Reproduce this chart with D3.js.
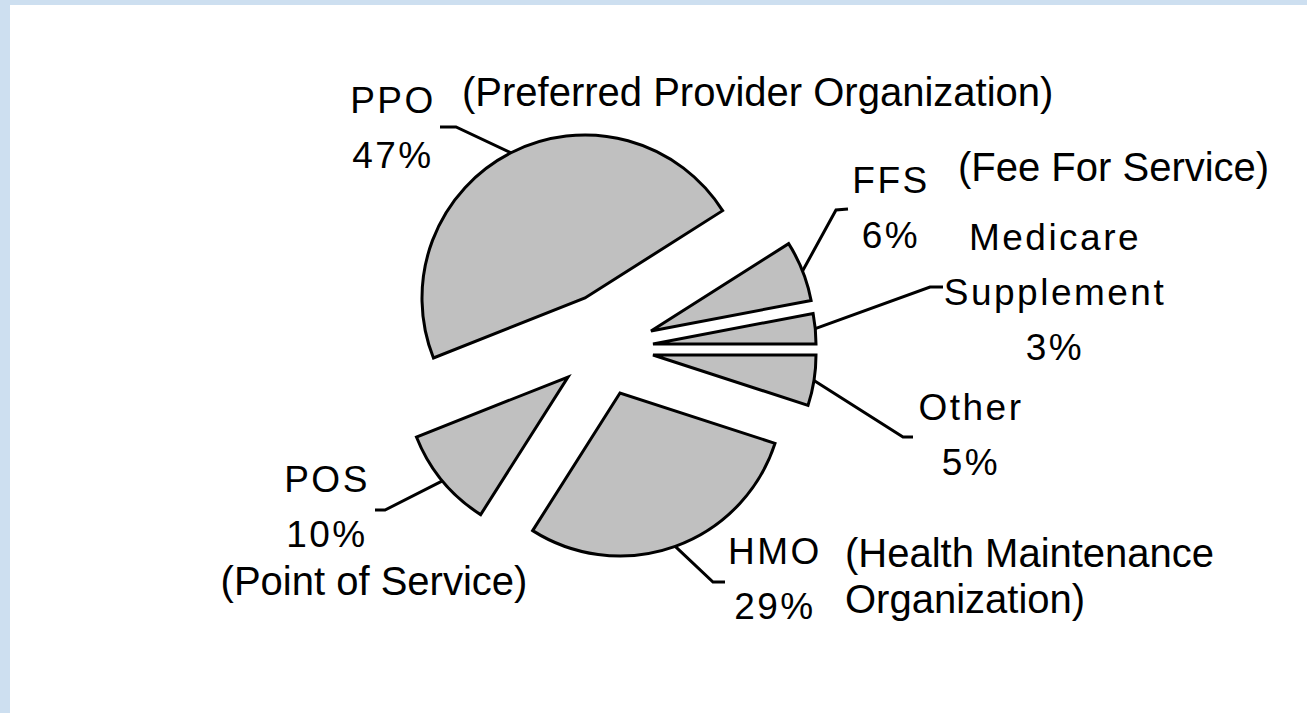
<!DOCTYPE html>
<html>
<head>
<meta charset="utf-8">
<script src="https://cdn.jsdelivr.net/npm/d3@7"></script>
<style>
  body { margin: 0; background: #fff; }
  svg { display: block; }
</style>
</head>
<body>
<script>
var width = 1307,
    height = 713,
    radius = 163;

// data
var categories = ['PPO', 'FFS', 'Medicare Supplement', 'Other', 'HMO', 'POS'];
var shares = [47, 6, 3, 5, 29, 10];
var shortNames = [['PPO'], ['FFS'], ['Medicare', 'Supplement'], ['Other'], ['HMO'], ['POS']];
var fullNames = [
  ['(Preferred Provider Organization)'],
  ['(Fee For Service)'],
  [],
  [],
  ['(Health Maintenance', 'Organization)'],
  ['(Point of Service)']
];

// layout only: slice pull-out, leader elbows, label spots
var center = [640, 345];
var layout = {
  'PPO':                 { pull: [-55, -47], elbow: [456, 127], end: [440, 127], lx: 393, ly: 113, dx: 462, dy: 106, anchor: 'start' },
  'FFS':                 { pull: [11, -14],  elbow: [836, 210], end: [848, 209], lx: 891, ly: 193, dx: 958, dy: 181, anchor: 'start' },
  'Medicare Supplement': { pull: [13, -1],   elbow: [930, 287], end: [943, 287], lx: 1055, ly: 250 },
  'Other':               { pull: [13, 10],   elbow: [903, 437], end: [913, 437], lx: 971, ly: 420 },
  'HMO':                 { pull: [-20, 48],  elbow: [713, 582], end: [725, 582], lx: 775, ly: 564, dx: 845, dy: 567, anchor: 'start' },
  'POS':                 { pull: [-72, 32],  elbow: [385, 510], end: [375, 510], lx: 327, ly: 492, dx: 374, dy: 595, anchor: 'middle' }
};

var data = categories.map(function(c, i) {
  return { name: c, value: shares[i], short: shortNames[i], full: fullNames[i] };
});

var svg = d3.select('body').append('svg')
    .attr('width', width)
    .attr('height', height);

// frame strips
svg.append('rect').attr('x', 0).attr('y', 0).attr('width', width).attr('height', 5).attr('fill', '#cddff0');
svg.append('rect').attr('x', 0).attr('y', 0).attr('width', 10).attr('height', height).attr('fill', '#cddff0');

// put the Medicare / Other boundary at 3 o'clock
var total = d3.sum(shares);
var before = shares[0] + shares[1] + shares[2];
var start = Math.PI / 2 - 2 * Math.PI * before / total;

var pie = d3.pie().sort(null).value(function(d) { return d.value; })
    .startAngle(start).endAngle(start + 2 * Math.PI);

var arc = d3.arc().innerRadius(0).outerRadius(radius);

var slices = pie(data);

var g = svg.append('g');

g.selectAll('path.slice')
  .data(slices)
  .enter().append('path')
    .attr('class', 'slice')
    .attr('transform', function(d) {
      var p = layout[d.data.name].pull;
      return 'translate(' + (center[0] + p[0]) + ',' + (center[1] + p[1]) + ')';
    })
    .attr('d', arc)
    .attr('fill', '#c0c0c0')
    .attr('stroke', '#000')
    .attr('stroke-width', 3)
    .attr('stroke-linejoin', 'miter');

// leader lines from the arc midpoint
g.selectAll('path.leader')
  .data(slices)
  .enter().append('path')
    .attr('class', 'leader')
    .attr('d', function(d) {
      var L = layout[d.data.name];
      var mid = (d.startAngle + d.endAngle) / 2;
      var sx = center[0] + L.pull[0] + Math.sin(mid) * radius;
      var sy = center[1] + L.pull[1] - Math.cos(mid) * radius;
      return d3.line()([[sx, sy], L.elbow, L.end]);
    })
    .attr('fill', 'none')
    .attr('stroke', '#000')
    .attr('stroke-width', 3);

// short labels with percentages
slices.forEach(function(d) {
  var L = layout[d.data.name];
  var lines = d.data.short.concat([d.data.value + '%']);
  var t = svg.append('text')
      .attr('text-anchor', 'middle')
      .attr('font-family', 'Arial, "Liberation Sans", sans-serif')
      .attr('font-size', 37)
      .attr('letter-spacing', 2.5)
      .attr('fill', '#000');
  lines.forEach(function(s, i) {
    t.append('tspan').attr('x', L.lx).attr('y', L.ly + i * 55).text(s);
  });

  if (d.data.full.length) {
    var f = svg.append('text')
        .attr('text-anchor', L.anchor)
        .attr('font-family', 'Arial, "Liberation Sans", sans-serif')
        .attr('font-size', 40)
        .attr('fill', '#000');
    d.data.full.forEach(function(s, i) {
      f.append('tspan').attr('x', L.dx).attr('y', L.dy + i * 46).text(s);
    });
  }
});
</script>
</body>
</html>
